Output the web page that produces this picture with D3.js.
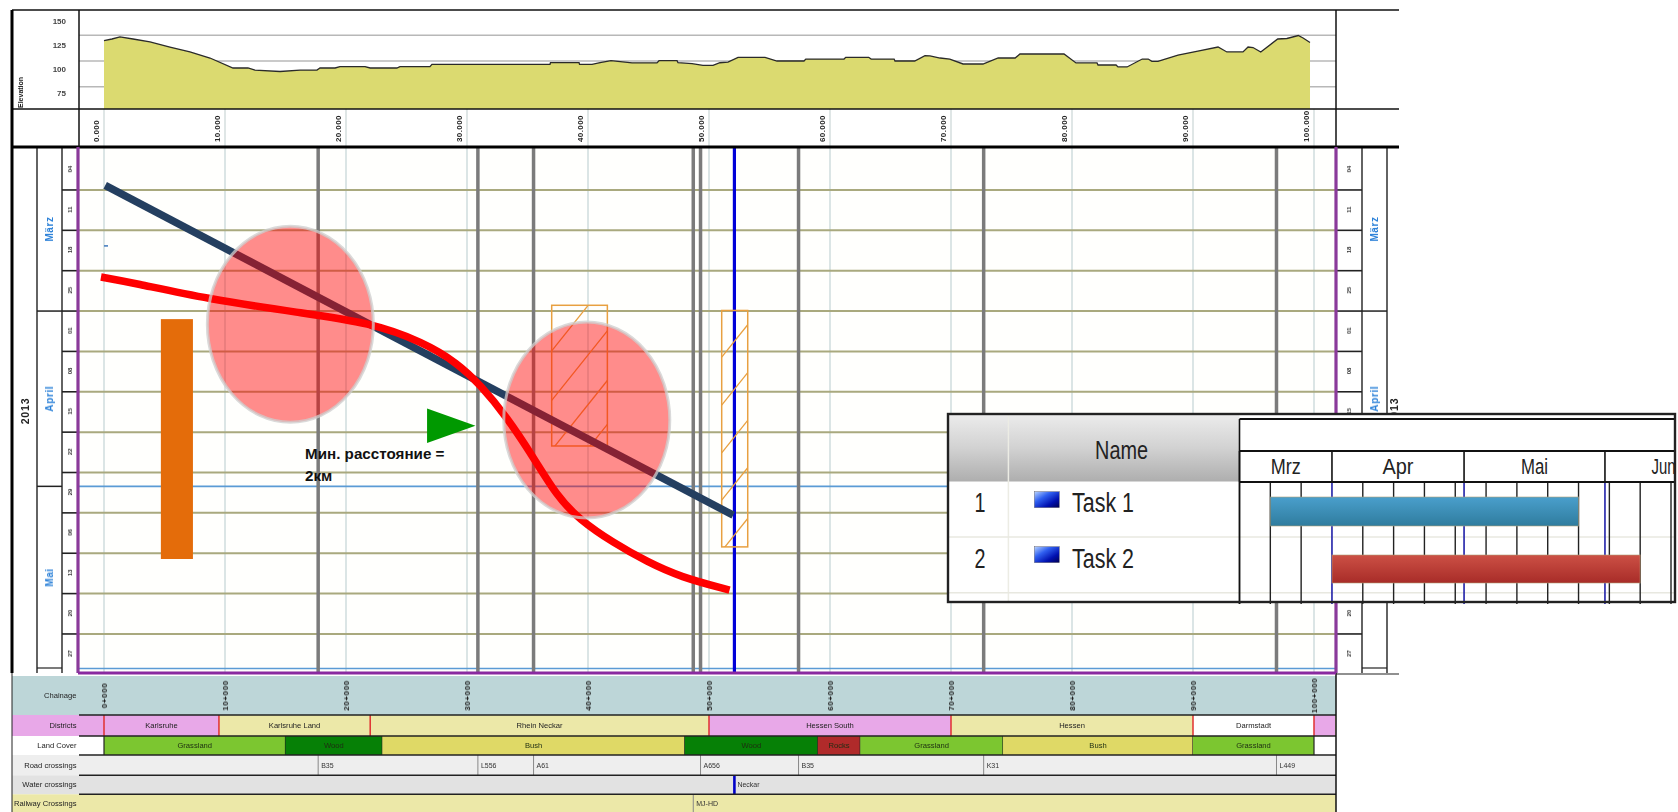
<!DOCTYPE html>
<html><head><meta charset="utf-8">
<script src="https://cdnjs.cloudflare.com/ajax/libs/d3/7.8.5/d3.min.js"></script>
<style>html,body{margin:0;padding:0;background:#fff;overflow:hidden}svg{display:block}text{font-family:"Liberation Sans",Arial,sans-serif}</style>
</head><body><svg id="c" width="1678" height="812"></svg>
<script>
// ---------- data ----------
const kmTicks=[0,10,20,30,40,50,60,70,80,90,100];
const kmLabels=["0.000","10.000","20.000","30.000","40.000","50.000","60.000","70.000","80.000","90.000","100.000"];
const chainageLabels=["0+000","10+000","20+000","30+000","40+000","50+000","60+000","70+000","80+000","90+000","100+000"];
const elevTicks=[150,125,100,75];
const elevGrid=[125,100,75];
const elevKm=[0,.66,1.32,2.4,3.8,5.45,7.1,8.76,10.66,11.9,12.48,14.55,16.2,17.6,17.85,19.1,19.5,21.57,22,24.2,24.46,26.94,27.1,36.86,36.9,39.26,39.3,40.33,41,41.9,43.64,45.7,45.87,47.36,47.44,48.6,49.5,50.33,50.9,51.57,52.4,54.63,55.62,57.85,58,61.16,61.3,63.2,63.4,65.3,65.37,67,67.85,68.26,69.1,69.9,71,72.64,73.9,75.3,75.7,79.34,80.33,82.07,82.15,83.64,83.8,84.55,85.8,86.3,86.6,87.1,88.76,90.4,92.07,92.8,94.13,94.55,94.96,95.6,97,97.76,98.7,99.1,99.67];
const elevM=[119.8,121.4,123.4,121.4,118.5,113.6,108.8,102.9,93.2,93.2,91.2,89.8,91.2,91.2,93.2,93.2,94.6,94.6,93.2,93.2,94.6,94.6,96.8,96.8,98.5,98.5,96.8,96.8,98.5,100.3,98.2,98.2,100.3,100.3,98.3,97.4,95.8,95.8,98.3,99,103.6,103.6,100,100,101.9,101.9,103.6,103.6,101.9,101.9,100,100,105.2,104.9,102.9,101.9,97.1,97.1,102.9,102.9,106.8,106.8,98.1,98.1,96.1,96.1,94.2,94.2,101.9,101.9,99.7,99.7,105.8,109.7,113.6,108.8,108.8,113.6,113.1,108.8,121.4,121.9,124.8,122.4,118];
// time axis: days counted from Monday 4 March 2013
const weekDays=[0,7,14,21,28,35,42,49,56,63,70,77,84];
const weekLabels=["04","11","18","25","01","08","15","22","29","06","13","20","27"];
const monthNames=["März","April","Mai"];
const monthStart=[-1,28,58.4];
const monthEnd=[28,58.4,90];
const blueRuleDays=[58.4,90];
const navyKm=[.1,52];const navyDay=[6.2,63.4];
const redKm=[-.25,2.4,8.5,16.2,22,26.4,29.2,31.1,33.3,35.5,37.4,39.3,42.1,44.9,47.6,51.7];
const redDay=[22.1,23.1,25.9,28.3,30,33.4,37,40.8,46.4,53.4,60,64.2,68.2,71.5,74.1,76.4];
const riskKm=[15.4,39.9];const riskDay=[30.3,46.9];const riskRxKm=6.86;const riskRyDay=17;
const blockKm=[4.7,7.35];const blockDay=[29.4,71];
const hatchKm0=[37,51.05];const hatchKm1=[41.6,53.2];const hatchDay0=[27,27.9];const hatchDay1=[51.4,68.9];
const hatchStarts=[[34.9,43.5,52.1,59.7],[36,44.3,52.6,60.8,69.6]];
const hatchSlope=2.62;
const markerKm=[26.7,26.7,30.7];const markerDay=[44.9,50.9,47.9];
const tinyMark={km:0,day:16.7};
const districts=[["",-2.1,0,"#e8a8e8"],["Karlsruhe",0,9.5,"#e8a8e8"],["Karlsruhe Land",9.5,22,"#ece8a8"],["Rhein Neckar",22,50,"#ece8a8"],["Hessen South",50,70,"#e8a8e8"],["Hessen",70,90,"#ece8a8"],["Darmstadt",90,100,"#ffffff"],["",100,101.75,"#e8a8e8"]];
const landCover=[["Grassland",0,15,"#7cc630"],["Wood",15,23,"#068006"],["Bush",23,48,"#dfd966"],["Wood",48,59,"#068006"],["Rocks",59,62.5,"#b02a2a"],["Grassland",62.5,74.3,"#7cc630"],["Bush",74.3,90,"#dfd966"],["Grassland",90,100,"#7cc630"]];
const roads=[["B35",17.7],["L556",30.9],["A61",35.5],["A656",49.3],["B35",57.4],["K31",72.7],["L449",96.9]];
const waters=[["Neckar",52.1]];
const rails=[["MJ-HD",48.7]];
const laneNames=["Chainage","Districts","Land Cover","Road crossings","Water crossings","Railway Crossings"];
const laneColors=["#bdd6d8","#e8a8e8","#ffffff","#eeeeee","#e2e2e2","#ece8a8"];
const ganttMonths=[["Mrz","2013-03-11","2013-04-01"],["Apr","2013-04-01","2013-05-01"],["Mai","2013-05-01","2013-06-02"],["Jun","2013-06-02","2013-07-02"]];
const ganttWeeks=["2013-03-18","2013-03-25","2013-04-08","2013-04-15","2013-04-22","2013-04-29","2013-05-06","2013-05-13","2013-05-20","2013-05-27","2013-06-03","2013-06-10","2013-06-17"];
const ganttTasks=[["Task 1","2013-03-18","2013-05-27"],["Task 2","2013-04-01","2013-06-10"]];

// ---------- scales ----------
const svg=d3.select("#c");
const x=d3.scaleLinear().domain([0,100]).range([104,1314]);
const y=d3.scaleLinear().domain([0,77]).range([149.6,593.6]);
const eY=d3.scaleLinear().domain([75,125]).range([86.7,35.3]);
const eLabelY=d3.scaleLinear().domain([150,75]).range([21,93]);
const gx=d3.scaleTime().domain([new Date("2013-03-11"),new Date("2013-06-17")]).range([1239.5,1671]);
const L={l:12,cm:37,cw:62,p:78,h:79,r:1336,rw:1362,rm:1387,edge:1399,top:10,panel:109,row:147,bot:673};
const line=(g,x1,y1,x2,y2,c,w)=>g.append("line").attr("x1",x1).attr("y1",y1).attr("x2",x2).attr("y2",y2).attr("stroke",c).attr("stroke-width",w);
const rot=(g,tx,ty,t,size,opt={})=>g.append("text").attr("transform",`translate(${tx},${ty}) rotate(-90)`).attr("text-anchor",opt.anchor||"middle").attr("dominant-baseline","central").attr("font-size",size).attr("font-weight",opt.weight||"bold").attr("fill",opt.fill||"#222").attr("letter-spacing",opt.ls||0).text(t);

// defs
const defs=svg.append("defs");
function grad(id,stops){const g=defs.append("linearGradient").attr("id",id).attr("x1",0).attr("y1",0).attr("x2",0).attr("y2",1);stops.forEach(s=>g.append("stop").attr("offset",s[0]).attr("stop-color",s[1]));}
grad("hdr",[[0,"#ececec"],[.5,"#d2d2d2"],[1,"#aeaeae"]]);
grad("t0",[[0,"#4a9fcc"],[1,"#2f7c9e"]]);
grad("t1",[[0,"#cc5045"],[1,"#a82c28"]]);
const ic=defs.append("linearGradient").attr("id","icon").attr("x1",0).attr("y1",0).attr("x2",1).attr("y2",1);
[[0,"#b8d4ff"],[.35,"#3060f0"],[.7,"#0010b0"],[1,"#000050"]].forEach(s=>ic.append("stop").attr("offset",s[0]).attr("stop-color",s[1]));
const soft=defs.append("filter").attr("id","soft").attr("x","-20%").attr("y","-40%").attr("width","140%").attr("height","180%");
soft.append("feGaussianBlur").attr("stdDeviation",.4);
hatchKm0.forEach((k,i)=>defs.append("clipPath").attr("id","hc"+i).append("rect").attr("x",x(k)).attr("y",y(hatchDay0[i])).attr("width",x(hatchKm1[i])-x(k)).attr("height",y(hatchDay1[i])-y(hatchDay0[i])));
defs.append("clipPath").attr("id","ganttClip").append("rect").attr("x",948).attr("y",400).attr("width",728).attr("height",210);

// ---------- elevation panel ----------
const topG=svg.append("g");
elevGrid.forEach(v=>line(topG,L.h,eY(v),L.r,eY(v),"#b8b8b8",1.5));
const ed=elevKm.map((k,i)=>[k,elevM[i]]);
topG.append("path").datum(ed).attr("fill","#dbda70").attr("d",d3.area().x(d=>x(d[0])).y0(L.panel).y1(d=>eY(d[1])));
topG.append("path").datum(ed).attr("fill","none").attr("stroke","#2a2a2a").attr("stroke-width",1.3).attr("d",d3.line().x(d=>x(d[0])).y(d=>eY(d[1])));
elevTicks.forEach(v=>topG.append("text").attr("x",66).attr("y",eLabelY(v)).attr("text-anchor","end").attr("dominant-baseline","central").attr("font-size",8).attr("font-weight","bold").attr("fill","#444").text(v));
rot(topG,20,108,"Elevation",7,{anchor:"start"});

// km row
kmTicks.forEach((k,i)=>{
  line(topG,x(k),L.panel,x(k),L.row,"#d4dede",1.5);
  rot(topG,x(k)-8,142,kmLabels[i],8,{anchor:"start",ls:.4});
});

// ---------- main plot ----------
const plot=svg.append("g");
plot.append("rect").attr("x",L.p).attr("y",L.row).attr("width",L.r-L.p).attr("height",L.bot-L.row).attr("fill","#fffffd");
kmTicks.forEach(k=>line(plot,x(k),L.row,x(k),L.bot,"#cfdcdc",1.5));
weekDays.slice(1).forEach(d=>line(plot,L.p,y(d),L.r,y(d),"#a9a97e",2));
blueRuleDays.forEach(d=>line(plot,L.p,y(d),L.r,y(d),"#5b9bd5",1.6));
roads.forEach(r=>line(plot,x(r[1]),L.row,x(r[1]),L.bot,"#7b7b7b",3.5));
rails.forEach(r=>line(plot,x(r[1]),L.row,x(r[1]),L.bot,"#7b7b7b",3.5));
waters.forEach(r=>line(plot,x(r[1]),L.row,x(r[1]),L.bot,"#0000d8",3.2));
line(plot,x(tinyMark.km),y(tinyMark.day),x(tinyMark.km)+4,y(tinyMark.day),"#4a80c0",1.6);

// hatched blocks
hatchKm0.forEach((k,i)=>{
  const g=plot.append("g");
  const gg=g.append("g").attr("clip-path",`url(#hc${i})`);
  hatchStarts[i].forEach(d=>{
    const dk=hatchKm1[i]-k;
    line(gg,x(k),y(d),x(hatchKm1[i]),y(d-hatchSlope*dk),"#e8a040",1.3);
  });
  g.append("rect").attr("x",x(k)).attr("y",y(hatchDay0[i])).attr("width",x(hatchKm1[i])-x(k)).attr("height",y(hatchDay1[i])-y(hatchDay0[i])).attr("fill","none").attr("stroke","#e8a040").attr("stroke-width",1.5);
});

// lines
plot.append("path").datum(navyKm.map((k,i)=>[k,navyDay[i]])).attr("fill","none").attr("stroke","#243f60").attr("stroke-width",7.5).attr("d",d3.line().x(d=>x(d[0])).y(d=>y(d[1])));
plot.append("path").datum(redKm.map((k,i)=>[k,redDay[i]])).attr("fill","none").attr("stroke","#ff0000").attr("stroke-width",7.5).attr("d",d3.line().curve(d3.curveBasis).x(d=>x(d[0])).y(d=>y(d[1])));

// risk ellipses
riskKm.forEach((k,i)=>plot.append("ellipse").attr("cx",x(k)).attr("cy",y(riskDay[i])).attr("rx",x(riskRxKm)-x(0)).attr("ry",y(riskRyDay)-y(0)).attr("fill","rgba(255,0,0,.45)").attr("stroke","rgba(205,205,205,.75)").attr("stroke-width",3));

// orange block
plot.append("rect").attr("x",x(blockKm[0])).attr("y",y(blockDay[0])).attr("width",x(blockKm[1])-x(blockKm[0])).attr("height",y(blockDay[1])-y(blockDay[0])).attr("fill","#e46c0a");

// marker + note
plot.append("polygon").attr("points",markerKm.map((k,i)=>[x(k),y(markerDay[i])].join(",")).join(" ")).attr("fill","#009900");
const note=plot.append("text").attr("font-size",15.2).attr("font-weight","bold").attr("fill","#111");
note.append("tspan").attr("x",305).attr("y",459).text("Мин. расстояние =");
note.append("tspan").attr("x",305).attr("y",481).text("2км");

// ---------- side calendars ----------
const cal=svg.append("g");
cal.append("rect").attr("x",L.l).attr("y",L.row).attr("width",L.p-L.l).attr("height",L.bot-L.row).attr("fill","#fff");
cal.append("rect").attr("x",L.r).attr("y",L.row).attr("width",L.edge-L.r).attr("height",L.bot-L.row).attr("fill","#fff");
weekDays.forEach((d,i)=>{
  rot(cal,70,y(d+3.4),weekLabels[i],6,{fill:"#333"});
  rot(cal,1349,y(d+3.4),weekLabels[i],6,{fill:"#333"});
  if(i>0){line(cal,L.cw,y(d),L.p,y(d),"#222",1.6);line(cal,L.r,y(d),L.rw,y(d),"#222",1.6);}
});
monthNames.forEach((m,i)=>{
  const c=(Math.max(y(monthStart[i]),L.row)+Math.min(y(monthEnd[i]),L.bot))/2;
  rot(cal,49,c,m,10,{fill:"#2a80d8",ls:.6});
  rot(cal,1374,c,m,10,{fill:"#2a80d8",ls:.6});
  if(i>0){line(cal,L.cm,y(monthStart[i]),L.cw,y(monthStart[i]),"#222",1.5);line(cal,L.rw,y(monthStart[i]),L.rm,y(monthStart[i]),"#222",1.5);}
});
rot(cal,25,411,"2013",10.5,{ls:.8,fill:"#222"});
rot(cal,1394,411,"2013",10.5,{ls:.8,fill:"#222"});
[L.cm,L.cw].forEach(v=>line(cal,v,L.row,v,L.bot,"#222",1.4));
[L.rw,L.rm].forEach(v=>line(cal,v,L.row,v,L.bot,"#222",1.4));
[[L.cm,L.cw],[L.rw,L.rm]].forEach(p=>line(cal,p[0],668,p[1],668,"#222",1.2));

// ---------- lanes ----------
const lanes=svg.append("g");
const laneY=[676,715,736,755,775.3,794.3,812];
laneNames.forEach((n,i)=>{
  lanes.append("rect").attr("x",L.l).attr("y",laneY[i]).attr("width",L.h-L.l).attr("height",laneY[i+1]-laneY[i]).attr("fill",laneColors[i]);
  lanes.append("rect").attr("x",L.h).attr("y",laneY[i]).attr("width",L.r-L.h).attr("height",laneY[i+1]-laneY[i]).attr("fill",i==1?"#ece8a8":laneColors[i]);
  lanes.append("text").attr("x",76.5).attr("y",(laneY[i]+laneY[i+1])/2).attr("text-anchor","end").attr("dominant-baseline","central").attr("font-size",7.6).attr("fill","#222").text(n);
});
const lanesX=k=>Math.max(L.h,Math.min(L.r,x(k)));
// chainage
kmTicks.forEach((k,i)=>rot(lanes,x(k),695.5,chainageLabels[i],8,{ls:.6}));
// districts
districts.forEach(d=>{
  lanes.append("rect").attr("x",lanesX(d[1])).attr("y",laneY[1]).attr("width",lanesX(d[2])-lanesX(d[1])).attr("height",laneY[2]-laneY[1]).attr("fill",d[3]);
  if(d[0])lanes.append("text").attr("x",(x(d[1])+x(d[2]))/2).attr("y",(laneY[1]+laneY[2])/2).attr("text-anchor","middle").attr("dominant-baseline","central").attr("font-size",7.6).attr("fill","#222").text(d[0]);
});
districts.slice(1).forEach(d=>line(lanes,x(d[1]),laneY[1],x(d[1]),laneY[2],"#e03030",1.5));
// land cover
landCover.forEach(d=>{
  lanes.append("rect").attr("x",x(d[1])).attr("y",laneY[2]).attr("width",x(d[2])-x(d[1])).attr("height",laneY[3]-laneY[2]).attr("fill",d[3]);
  line(lanes,x(d[2]),laneY[2],x(d[2]),laneY[3],"#222",1.2);
  lanes.append("text").attr("x",(x(d[1])+x(d[2]))/2).attr("y",(laneY[2]+laneY[3])/2).attr("text-anchor","middle").attr("dominant-baseline","central").attr("font-size",7.6).attr("fill","#1d2d10").text(d[0]);
});
line(lanes,x(0),laneY[2],x(0),laneY[3],"#222",1.2);
// crossings
[[roads,3,"#888",1],[waters,4,"#0000c8",2.6],[rails,5,"#888",1]].forEach(([arr,i,c,w])=>arr.forEach(r=>{
  line(lanes,x(r[1]),laneY[i],x(r[1]),laneY[i+1],c,w);
  lanes.append("text").attr("x",x(r[1])+3).attr("y",(laneY[i]+laneY[i+1])/2).attr("dominant-baseline","central").attr("font-size",7).attr("fill","#333").text(r[0]);
}));
laneY.slice(0,6).forEach((v,i)=>{if(i>0)line(lanes,L.h,v,L.r,v,"#222",1.5);});
// the small labels are soft in the reference
[topG,cal,lanes].forEach(s=>s.selectAll("text").attr("filter","url(#soft)"));

// ---------- frame ----------
const fr=svg.append("g");
line(fr,L.l,L.top,L.edge,L.top,"#111",1.5);
line(fr,L.l,L.panel,L.edge,L.panel,"#111",1.5);
line(fr,L.l,L.row,L.edge,L.row,"#000",3);
line(fr,L.l,L.top,L.l,L.bot,"#000",3);
line(fr,L.l,L.bot,L.l,812,"#222",1);
line(fr,L.h,L.top,L.h,L.row,"#111",1.5);
line(fr,L.r,L.top,L.r,L.row,"#111",1.5);
line(fr,L.r,L.bot,L.r,812,"#111",1.5);
line(fr,L.r,L.bot+1,L.edge,L.bot+1,"#222",1.2);
line(fr,L.p,L.row,L.p,L.bot,"#8a3a9a",3.2);
line(fr,L.r,L.row,L.r,L.bot,"#8a3a9a",3.2);
line(fr,L.p,L.bot,L.r,L.bot,"#8a2aa0",3.2);
// ---------- gantt inset ----------
const g=svg.append("g");
g.append("rect").attr("x",948).attr("y",414).attr("width",727).attr("height",188).attr("fill","#fff");
g.append("rect").attr("x",948).attr("y",414).attr("width",291.5).attr("height",67.5).attr("fill","url(#hdr)");
line(g,1008.4,414,1008.4,602,"#ecece4",1.5);
[537,592.7].forEach(v=>line(g,948,v,1675,v,"#e8e8e0",1.5));
const stretch=(t,xx,yy,size,w,anchor)=>g.append("text").attr("x",xx).attr("y",yy).attr("text-anchor",anchor||"start").attr("dominant-baseline","central").attr("font-size",size).attr("fill","#222").attr("textLength",w).attr("lengthAdjust","spacingAndGlyphs").text(t);
stretch("Name",1121.6,450,25,53,"middle");
const gc=g.append("g").attr("clip-path","url(#ganttClip)");
ganttWeeks.forEach(d=>line(gc,gx(new Date(d)),482,gx(new Date(d)),604,"#222",1.4));
ganttMonths.forEach(m=>{
  const a=gx(new Date(m[1])),b=gx(new Date(m[2]));
  line(gc,a,451,a,482,"#111",1.6);
  if(m[0]!=="Mrz")line(gc,a,482,a,604,"#2020a8",1.6);else line(gc,a,482,a,604,"#222",1.4);
  gc.append("text").attr("x",a+(m[0]==="Jun"?46.5:(b-a)/2)).attr("y",466.5).attr("text-anchor",m[0]==="Jun"?"start":"middle").attr("dominant-baseline","central").attr("font-size",22).attr("fill","#222").attr("textLength",m[0]==="Mrz"?30:m[0]==="Apr"?31:m[0]==="Mai"?27:24).attr("lengthAdjust","spacingAndGlyphs").text(m[0]);
});
line(gc,1239.5,419,1676,419,"#111",2);
line(gc,1239.5,451,1676,451,"#111",2);
line(gc,1239.5,482,1676,482,"#111",2);
line(gc,1239.5,419,1239.5,604,"#111",1.6);
const rowY=[497,555],rowH=[29,28],rowText=[503,559],rowIcon=[491.7,546.7];
ganttTasks.forEach((t,i)=>{
  const a=gx(new Date(t[1])),b=gx(new Date(t[2]));
  gc.append("rect").attr("x",a).attr("y",rowY[i]).attr("width",b-a).attr("height",rowH[i]).attr("fill",`url(#t${i})`).attr("stroke","#b0a078").attr("stroke-opacity",.6).attr("stroke-width",1);
  stretch(String(i+1),980,rowText[i],27,11,"middle");
  g.append("rect").attr("x",1034.3).attr("y",rowIcon[i]).attr("width",25).attr("height",16).attr("fill","url(#icon)").attr("stroke","#667").attr("stroke-width",.5);
  stretch(t[0],1072,rowText[i],27,62);
});
g.append("rect").attr("x",948).attr("y",414).attr("width",727).attr("height",188).attr("fill","none").attr("stroke","#222").attr("stroke-width",2.4);
</script></body></html>
